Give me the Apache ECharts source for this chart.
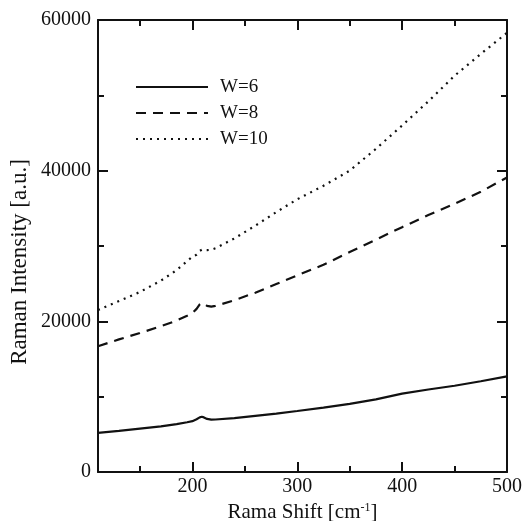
<!DOCTYPE html>
<html>
<head>
<meta charset="utf-8">
<script src="https://cdn.jsdelivr.net/npm/echarts@6/dist/echarts.min.js"></script>
<style>
  html, body { margin: 0; padding: 0; background: #fff; }
  #chart { width: 523px; height: 521px; }
</style>
</head>
<body>
<div id="chart"></div>
<script>
// raman shift values (cm-1)
var shift = [110, 130, 150, 170, 185, 195, 200, 204, 207, 209, 211, 214, 218, 222, 240, 260, 280, 300, 325, 350, 375, 400, 425, 450, 475, 500];
// intensities
var w6  = [5200, 5450, 5750, 6050, 6350, 6600, 6750, 7000, 7250, 7330, 7250, 7050, 6950, 6970, 7150, 7450, 7750, 8100, 8550, 9050, 9650, 10400, 10950, 11450, 12050, 12700];
var w8  = [16700, 17600, 18450, 19350, 20100, 20750, 21100, 21650, 22250, 22450, 22350, 22050, 21950, 22050, 22800, 23800, 24950, 26100, 27500, 29200, 30850, 32500, 34100, 35600, 37200, 39100];
var w10 = [21500, 22700, 23900, 25400, 26800, 28000, 28600, 28850, 29350, 29500, 29450, 29450, 29500, 29700, 31000, 32700, 34500, 36200, 38000, 40000, 42900, 46000, 49200, 52600, 55500, 58300];
var majorX = [200, 300, 400, 500];
var minorX = [150, 250, 350, 450];

var font = 'Liberation Serif';

function pairs(ys) {
    var out = [];
    for (var i = 0; i < shift.length; i++) out.push([shift[i], ys[i]]);
    return out;
}

function xAx(pos, ticks, len, showLine, showLabel) {
    return {
        type: 'value', position: pos, min: 110, max: 500,
        axisLine: { show: showLine, onZero: false, lineStyle: { color: '#111', width: 2 } },
        axisTick: { show: true, inside: true, length: len, customValues: ticks, lineStyle: { color: '#111', width: 2 } },
        axisLabel: { show: showLabel, customValues: majorX, margin: 5, color: '#111', fontFamily: font, fontSize: 20 },
        splitLine: { show: false }
    };
}

var xMain = xAx('bottom', majorX, 10, true, true);
xMain.name = '{a|Rama Shift [cm}{s|-1}{a|]}';
xMain.nameLocation = 'middle';
xMain.nameGap = 28;
xMain.nameTextStyle = {
    rich: {
        a: { fontFamily: font, fontSize: 21, color: '#111' },
        s: { fontFamily: font, fontSize: 12, color: '#111', padding: [0, 0, 10, 0] }
    }
};

function yAx(pos, showLabel) {
    return {
        type: 'value', position: pos, min: 0, max: 60000, interval: 20000,
        axisLine: { show: true, lineStyle: { color: '#111', width: 2 } },
        axisTick: { show: true, inside: true, length: 10, lineStyle: { color: '#111', width: 2 } },
        minorTick: { show: true, splitNumber: 2, length: 6, lineStyle: { color: '#111', width: 2 } },
        axisLabel: {
            show: showLabel, margin: 7, color: '#111', fontFamily: font, fontSize: 20,
            formatter: function (v) { return String(v); }
        },
        splitLine: { show: false }
    };
}

function line(name, ys, type) {
    return {
        name: name, type: 'line', data: pairs(ys),
        xAxisIndex: 0, yAxisIndex: 0,
        showSymbol: false, symbol: 'none', smooth: false,
        lineStyle: { color: '#111', width: 2.2, type: type },
        itemStyle: { color: '#111' }
    };
}

var myChart = echarts.init(document.getElementById('chart'));
myChart.setOption({
    animation: false,
    backgroundColor: '#fff',
    grid: { left: 98, right: 16, top: 20, bottom: 49, outerBoundsMode: 'none' },
    // y title sits a bit below the middle in the original, so place it by hand
    graphic: {
        type: 'text', x: 20, y: 262, rotation: Math.PI / 2,
        style: {
            text: 'Raman Intensity [a.u.]', fill: '#111',
            font: '23px "Liberation Serif"',
            align: 'center', verticalAlign: 'middle'
        }
    },
    legend: {
        show: true,
        orient: 'vertical', left: 135, top: 77, padding: 0,
        itemWidth: 72, itemHeight: 14, itemGap: 6,
        itemStyle: { color: 'rgba(0,0,0,0)', borderWidth: 0 },
        data: ['W=6', 'W=8', 'W=10'],
        textStyle: { fontFamily: font, fontSize: 19, lineHeight: 20, color: '#111', padding: [0, 0, 0, 7] }
    },
    xAxis: [
        xMain,
        xAx('bottom', minorX, 6, false, false),
        xAx('top', majorX, 10, true, false),
        xAx('top', minorX, 6, false, false)
    ],
    yAxis: [yAx('left', true), yAx('right', false)],
    series: [
        line('W=6', w6, 'solid'),
        line('W=8', w8, [10, 7]),
        line('W=10', w10, [2, 5])
    ]
});
</script>
</body>
</html>
